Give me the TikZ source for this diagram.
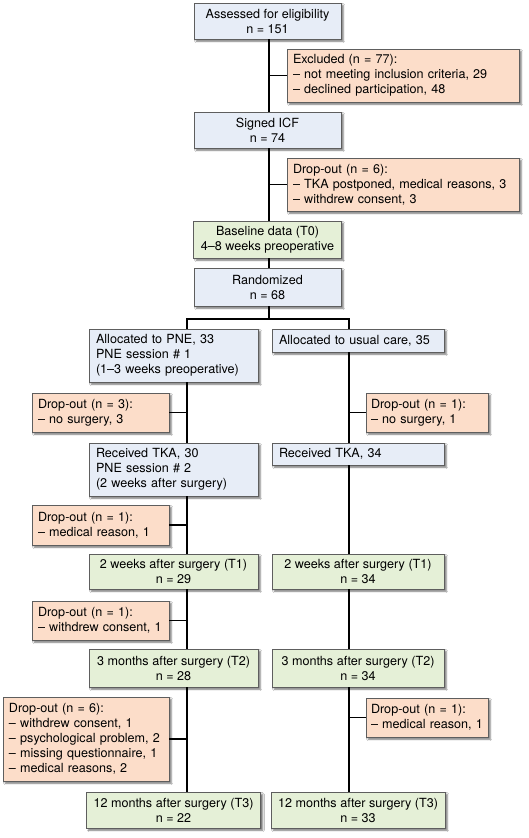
\documentclass[tikz,border=0pt]{standalone}
\usepackage{fontspec}
\setmainfont{TeX Gyre Heros}
\usetikzlibrary{shadows.blur}
\definecolor{bluef}{HTML}{E7EDF7}
\definecolor{orangef}{HTML}{FCDDC9}
\definecolor{greenf}{HTML}{E5F0D7}
\definecolor{borderc}{HTML}{5E5E5E}
\newcommand{\boxfont}{\fontsize{12.6}{15}\selectfont}
\tikzset{
  box/.style={draw=borderc, line width=0.9pt, inner xsep=7pt, inner ysep=0pt,
    font=\boxfont, text=black,
    blur shadow={shadow xshift=2.2pt, shadow yshift=-2.2pt, shadow blur radius=1.6pt, shadow opacity=55}},
  bbox/.style={box, fill=bluef},
  obox/.style={box, fill=orangef, inner xsep=6pt},
  gbox/.style={box, fill=greenf},
  conn/.style={line width=1.7pt, black}
}
\begin{document}
\begin{tikzpicture}[x=1pt, y=-1pt]
\useasboundingbox[fill=white] (0,0) rectangle (529,838);

% top trunk
\node[bbox, align=center, minimum width=147pt, minimum height=36pt] (assess) at (267.5,21) {Assessed for eligibility\\n = 151};
\node[obox, align=left, text width=220pt, minimum height=53pt] (excl) at (403,75.5) {Excluded (n = 77):\\– not meeting inclusion criteria, 29\\– declined participation, 48};
\node[bbox, align=center, minimum width=147pt, minimum height=36pt] (icf) at (267.5,130) {Signed ICF\\n = 74};
\node[obox, align=left, text width=220pt, minimum height=53pt] (drop6) at (403,184.5) {Drop-out (n = 6):\\– TKA postponed, medical reasons, 3\\– withdrew consent, 3};
\node[gbox, align=center, minimum width=147pt, minimum height=37pt] (base) at (267.5,239.5) {Baseline data (T0)\\4–8 weeks preoperative};
\node[bbox, align=center, minimum width=147pt, minimum height=38pt] (rand) at (267.5,287) {Randomized\\n = 68};

% left arm
\node[bbox, align=left, text width=155pt, minimum height=53pt] (pne) at (173.5,355.5) {Allocated to PNE, 33\\PNE session \# 1\\(1–3 weeks preoperative)};
\node[obox, align=left, text width=125pt, minimum height=39pt] (dl1) at (100.5,412.5) {Drop-out (n = 3):\\– no surgery, 3};
\node[bbox, align=left, text width=155pt, minimum height=53pt] (tka30) at (173.5,469.5) {Received TKA, 30\\PNE session \# 2\\(2 weeks after surgery)};
\node[obox, align=left, text width=125pt, minimum height=40pt] (dl2) at (100.5,525) {Drop-out (n = 1):\\– medical reason, 1};
\node[gbox, align=center, minimum width=169pt, minimum height=35pt] (t1l) at (173.5,571.5) {2 weeks after surgery (T1)\\n = 29};
\node[obox, align=left, text width=125pt, minimum height=39pt] (dl3) at (100.5,620.5) {Drop-out (n = 1):\\– withdrew consent,~1};
\node[gbox, align=center, minimum width=169pt, minimum height=38pt] (t2l) at (173.5,668) {3 months after surgery (T2)\\n = 28};
\node[obox, align=left, text width=154pt, minimum height=84pt] (dl4) at (86,739) {Drop-out (n = 6):\\– withdrew consent, 1\\– psychological problem, 2\\– missing questionnaire, 1\\– medical reasons, 2};
\node[gbox, align=center, minimum width=169pt, minimum height=36pt] (t3l) at (173.5,810) {12 months after surgery (T3)\\n = 22};

% right arm
\node[bbox, align=left, text width=158pt, minimum height=23pt] (usual) at (358,340.5) {Allocated to usual care, 35};
\node[obox, align=left, inner xsep=5pt, text width=112pt, minimum height=39pt] (dr1) at (427,412.5) {Drop-out (n = 1):\\– no surgery, 1};
\node[bbox, align=left, text width=158pt, minimum height=22pt] (tka34) at (358,454) {Received TKA, 34};
\node[gbox, align=center, minimum width=172pt, minimum height=35pt] (t1r) at (358,571.5) {2 weeks after surgery (T1)\\n = 34};
\node[gbox, align=center, minimum width=172pt, minimum height=38pt] (t2r) at (358,668) {3 months after surgery (T2)\\n = 34};
\node[obox, align=left, inner xsep=5pt, text width=112pt, minimum height=39pt] (dr2) at (427,717.5) {Drop-out (n = 1):\\– medical reason, 1};
\node[gbox, align=center, minimum width=172pt, minimum height=36pt] (t3r) at (358,810) {12 months after surgery (T3)\\n = 33};

% connectors
\coordinate (T) at (269,0);
\coordinate (L) at (187,319);
\coordinate (R) at (349,319);
\draw[conn] (assess.south -| T) -- (icf.north -| T);
\draw[conn] (excl.west) -- (excl.west -| T);
\draw[conn] (icf.south -| T) -- (base.north -| T);
\draw[conn] (drop6.west) -- (drop6.west -| T);
\draw[conn] (base.south -| T) -- (rand.north -| T);
\draw[conn] (rand.south -| T) -- (L -| T);
\draw[conn] (pne.north -| L) -- (L) -- (R) -- (usual.north -| R);

\draw[conn] (pne.south -| L) -- (tka30.north -| L);
\draw[conn] (dl1.east) -- (dl1.east -| L);
\draw[conn] (tka30.south -| L) -- (t1l.north -| L);
\draw[conn] (dl2.east) -- (dl2.east -| L);
\draw[conn] (t1l.south -| L) -- (t2l.north -| L);
\draw[conn] (dl3.east) -- (dl3.east -| L);
\draw[conn] (t2l.south -| L) -- (t3l.north -| L);
\draw[conn] (dl4.east) -- (dl4.east -| L);

\draw[conn] (usual.south -| R) -- (tka34.north -| R);
\draw[conn] (dr1.west) -- (dr1.west -| R);
\draw[conn] (tka34.south -| R) -- (t1r.north -| R);
\draw[conn] (t1r.south -| R) -- (t2r.north -| R);
\draw[conn] (t2r.south -| R) -- (t3r.north -| R);
\draw[conn] (dr2.west) -- (dr2.west -| R);
\end{tikzpicture}
\end{document}
